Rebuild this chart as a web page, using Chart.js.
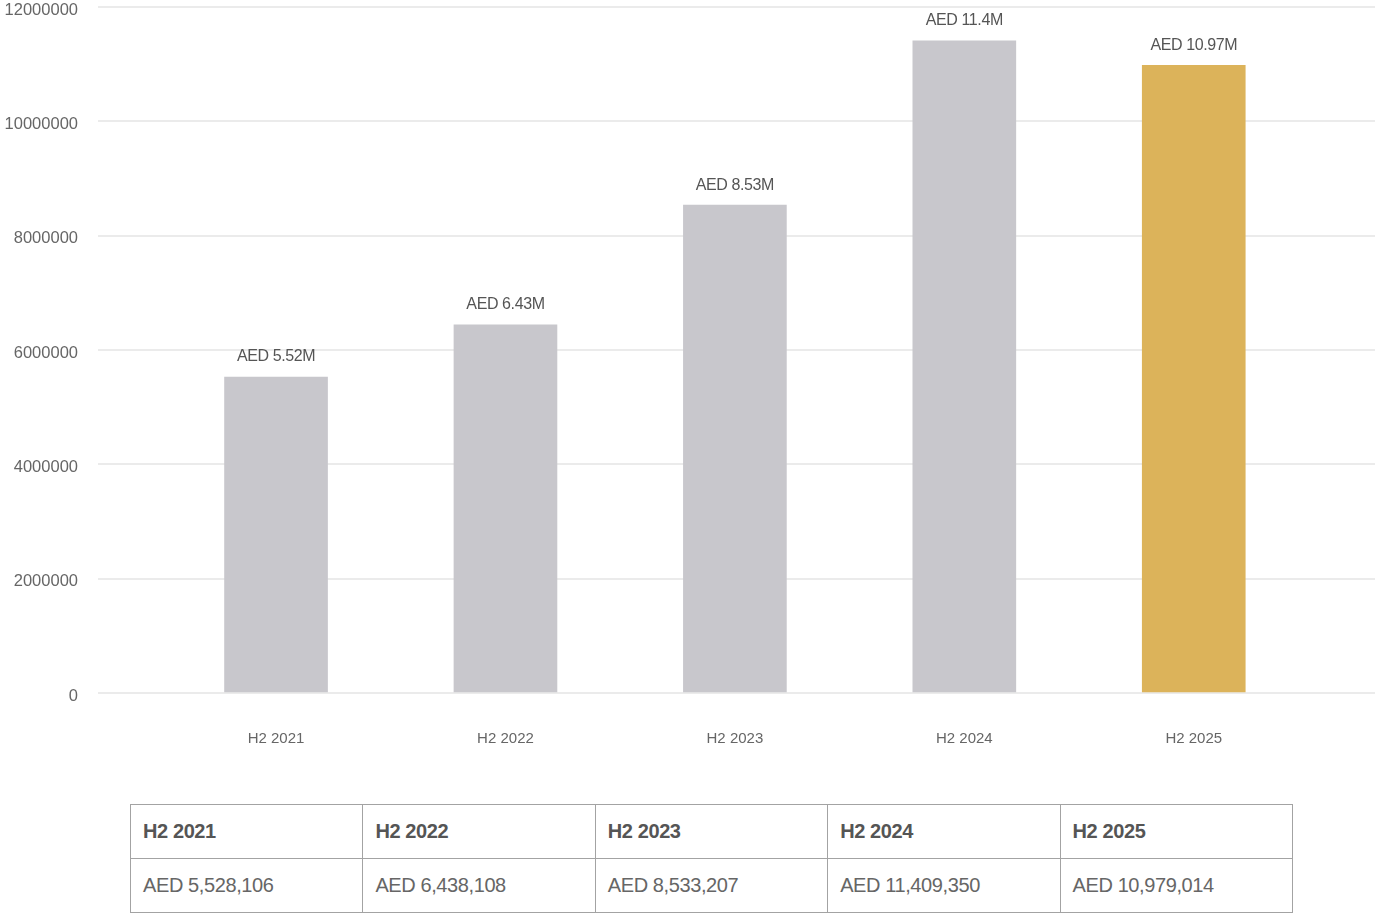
<!DOCTYPE html>
<html lang="en">
<head>
<meta charset="UTF-8">
<title>H2 revenue</title>
<script src="https://cdn.jsdelivr.net/npm/chart.js"></script>
<style>
    body {
        margin: 0;
        background: #fff;
        font-family: "Liberation Sans", Arial, sans-serif;
    }
    #chartBox {
        position: relative;
        width: 1377px;
        height: 770px;
    }
    table {
        position: absolute;
        left: 130px;
        top: 804px;
        width: 1163px;
        border-collapse: collapse;
        table-layout: fixed;
    }
    td, th {
        border: 1px solid #a3a3a3;
        height: 53px;
        padding: 0 12px;
        text-align: left;
        font-size: 20px;
        letter-spacing: -0.4px;
    }
    th { color: #555; font-weight: bold; }
    td { color: #666; font-weight: normal; }
</style>
</head>
<body>

<div id="chartBox"><canvas id="barChart"></canvas></div>
<table id="valueTable">
    <tr id="headRow"></tr>
    <tr id="valueRow"></tr>
</table>

<script>
var categories = ['H2 2021', 'H2 2022', 'H2 2023', 'H2 2024', 'H2 2025'];
var values = [5528106, 6438108, 8533207, 11409350, 10979014];
var barLabels = ['AED 5.52M', 'AED 6.43M', 'AED 8.53M', 'AED 11.4M', 'AED 10.97M'];
var tableValues = ['AED 5,528,106', 'AED 6,438,108', 'AED 8,533,207', 'AED 11,409,350', 'AED 10,979,014'];
var yTicks = [0, 2000000, 4000000, 6000000, 8000000, 10000000, 12000000];

var barColors = categories.map(function (c, i) {
    return i === categories.length - 1 ? '#dcb35a' : '#c8c7cc';
});

// value labels above each bar
var barLabelPlugin = {
    id: 'barLabels',
    afterDatasetsDraw: function (chart) {
        var ctx = chart.ctx;
        var meta = chart.getDatasetMeta(0);
        ctx.save();
        ctx.font = '16px "Liberation Sans", Arial, sans-serif';
        ctx.fillStyle = '#555';
        ctx.textAlign = 'center';
        ctx.textBaseline = 'middle';
        if ('letterSpacing' in ctx) ctx.letterSpacing = '-0.4px';
        meta.data.forEach(function (bar, i) {
            ctx.fillText(barLabels[i], bar.x, bar.y - 20);
        });
        ctx.restore();
    }
};

var ctx = document.getElementById('barChart').getContext('2d');
var barChart = new Chart(ctx, {
    type: 'bar',
    data: {
        datasets: [{
            data: values.map(function (v, i) { return { x: i, y: v }; }),
            backgroundColor: barColors,
            borderWidth: 0,
            barThickness: 103
        }]
    },
    options: {
        responsive: true,
        maintainAspectRatio: false,
        animation: false,
        layout: { padding: { top: 0, right: 2, left: 0, bottom: 0 } },
        plugins: {
            legend: { display: false },
            tooltip: { enabled: false }
        },
        scales: {
            x: {
                type: 'linear',
                offset: false,
                min: -0.776,
                max: 4.79,
                afterBuildTicks: function (scale) {
                    scale.ticks = categories.map(function (c, i) { return { value: i }; });
                },
                afterFit: function (scale) {
                    scale.height = 77;
                    scale.paddingLeft = 0;
                    scale.paddingRight = 0;
                },
                grid: { display: false, offset: false },
                border: { display: false },
                ticks: {
                    autoSkip: false,
                    maxRotation: 0,
                    padding: 30,
                    color: '#666',
                    font: { family: '"Liberation Sans", Arial, sans-serif', size: 15, lineHeight: 1 },
                    callback: function (v) { return categories[v]; }
                }
            },
            y: {
                min: 0,
                max: 12000000,
                afterBuildTicks: function (scale) {
                    scale.ticks = yTicks.map(function (v) { return { value: v }; });
                },
                afterFit: function (scale) {
                    scale.width = 98;
                    scale.paddingTop = 7;
                    scale.paddingBottom = 0;
                },
                grid: { color: '#ebebeb', lineWidth: 2, drawTicks: false },
                border: { display: false },
                ticks: {
                    padding: 20,
                    labelOffset: 3,
                    color: '#666',
                    font: { family: '"Liberation Sans", Arial, sans-serif', size: 16.5, lineHeight: 1 },
                    callback: function (v) { return String(v); }
                }
            }
        }
    },
    plugins: [barLabelPlugin]
});

// table under the chart
var headRow = document.getElementById('headRow');
var valueRow = document.getElementById('valueRow');
categories.forEach(function (c, i) {
    var th = document.createElement('th');
    th.textContent = c;
    headRow.appendChild(th);
    var td = document.createElement('td');
    td.textContent = tableValues[i];
    valueRow.appendChild(td);
});
</script>

</body>
</html>
